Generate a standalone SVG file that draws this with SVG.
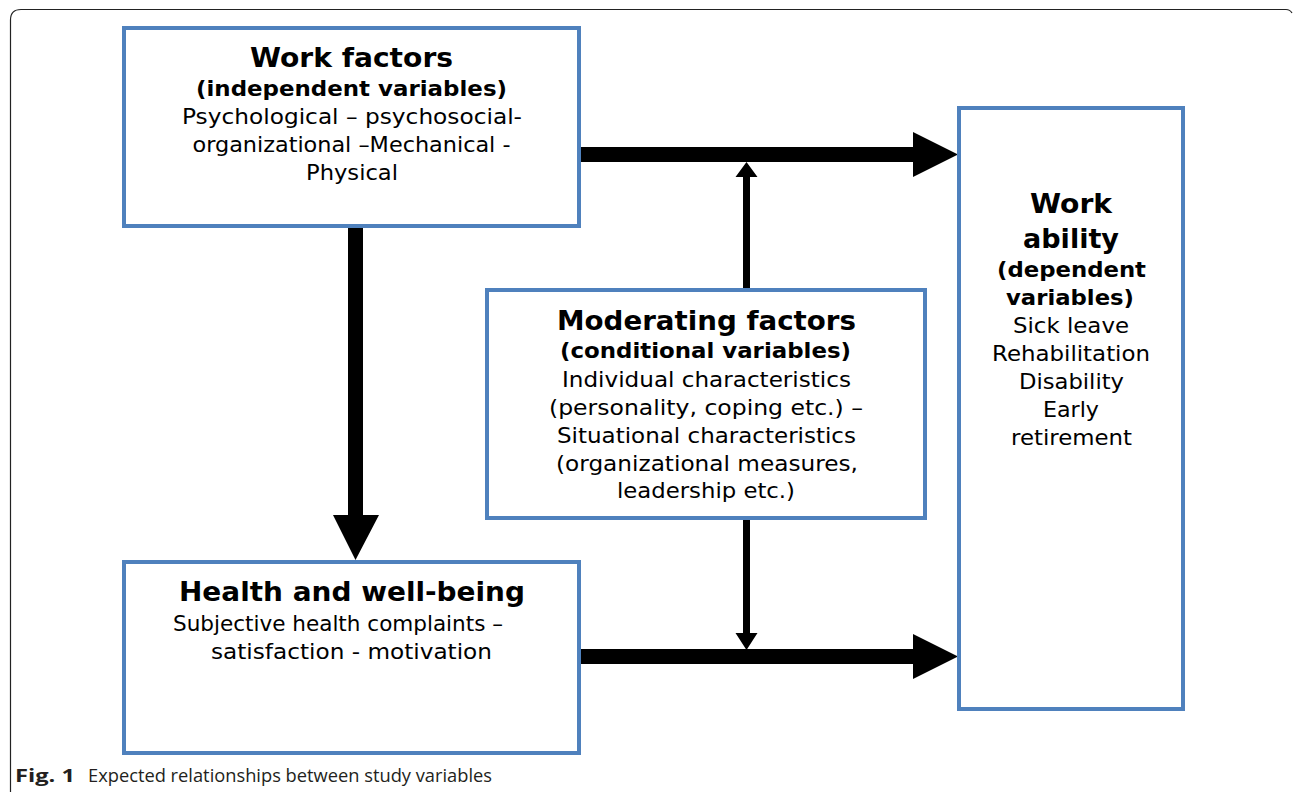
<svg xmlns="http://www.w3.org/2000/svg" width="1293" height="792" viewBox="0 0 1293 792">
<style>
.box{fill:#fff;stroke:#4f81bd;stroke-width:4}
.t{font-family:"DejaVu Sans",Verdana,sans-serif;fill:#000;text-anchor:middle}
.h{font-size:27px;font-weight:bold}
.s{font-size:21px;font-weight:bold}
.r{font-size:21px}
.c{font-family:"DejaVu Sans Condensed","DejaVu Sans",sans-serif;fill:#000;text-anchor:middle}
.arr{fill:#000}
</style>
<rect width="1293" height="792" fill="#fff"/>
<path d="M10.5,792 L10.5,20 Q10.5,9.5 21,9.5 L1286,9.5 Q1290,9.5 1292,13" fill="none" stroke="#222" stroke-width="1.2"/>
<g id="connectors">
<polygon class="arr" points="580,147 913,147 913,132 958,154.5 913,177 913,162 580,162"/>
<polygon class="arr" points="580,649 913,649 913,634 958,656.5 913,679 913,664 580,664"/>
<polygon class="arr" points="348,227 363,227 363,515 379,515 355.5,560 333,515 348,515"/>
<polygon class="arr" points="743,289 750,289 750,177 757.5,177 746.5,162 735.5,177 743,177"/>
<polygon class="arr" points="743,519 750,519 750,633 757.5,633 746.5,650 735.5,633 743,633"/>
</g>
<g id="work-factors">
<rect class="box" x="124" y="28" width="455" height="198"/>
<text class="t h" x="351.5" y="67" textLength="203" lengthAdjust="spacingAndGlyphs">Work factors</text>
<text class="t s" x="351.5" y="96" textLength="311" lengthAdjust="spacingAndGlyphs">(independent variables)</text>
<text class="t r" x="352" y="124" textLength="340" lengthAdjust="spacingAndGlyphs">Psychological – psychosocial-</text>
<text class="t r" x="351.5" y="152" textLength="318" lengthAdjust="spacingAndGlyphs">organizational –Mechanical -</text>
<text class="t r" x="352" y="180" textLength="92" lengthAdjust="spacingAndGlyphs">Physical</text>
</g>
<g id="moderating">
<rect class="box" x="487" y="290" width="438" height="228"/>
<text class="t h" x="706.5" y="330" textLength="299" lengthAdjust="spacingAndGlyphs">Moderating factors</text>
<text class="t s" x="705.5" y="358" textLength="291" lengthAdjust="spacingAndGlyphs">(conditional variables)</text>
<text class="t r" x="706.5" y="387" textLength="289" lengthAdjust="spacingAndGlyphs">Individual characteristics</text>
<text class="t r" x="706" y="415" textLength="314" lengthAdjust="spacingAndGlyphs">(personality, coping etc.) –</text>
<text class="t r" x="706.5" y="443" textLength="299" lengthAdjust="spacingAndGlyphs">Situational characteristics</text>
<text class="t r" x="707" y="471" textLength="302" lengthAdjust="spacingAndGlyphs">(organizational measures,</text>
<text class="t r" x="706" y="498" textLength="178" lengthAdjust="spacingAndGlyphs">leadership etc.)</text>
</g>
<g id="work-ability">
<rect class="box" x="959" y="108" width="224" height="601"/>
<text class="t h" x="1071" y="213" textLength="82" lengthAdjust="spacingAndGlyphs">Work</text>
<text class="t h" x="1071" y="248" textLength="96" lengthAdjust="spacingAndGlyphs">ability</text>
<text class="t s" x="1071.5" y="277" textLength="149" lengthAdjust="spacingAndGlyphs">(dependent</text>
<text class="t s" x="1070" y="305" textLength="128" lengthAdjust="spacingAndGlyphs">variables)</text>
<text class="t r" x="1071" y="333" textLength="116" lengthAdjust="spacingAndGlyphs">Sick leave</text>
<text class="t r" x="1071" y="361" textLength="158" lengthAdjust="spacingAndGlyphs">Rehabilitation</text>
<text class="t r" x="1071.5" y="389" textLength="105" lengthAdjust="spacingAndGlyphs">Disability</text>
<text class="t r" x="1071" y="417" textLength="56" lengthAdjust="spacingAndGlyphs">Early</text>
<text class="t r" x="1071.5" y="445" textLength="121" lengthAdjust="spacingAndGlyphs">retirement</text>
</g>
<g id="health">
<rect class="box" x="124" y="562" width="455" height="191"/>
<text class="c h" x="352" y="601" textLength="346" lengthAdjust="spacingAndGlyphs">Health and well-being</text>
<text class="c r" x="338" y="631" textLength="330" lengthAdjust="spacingAndGlyphs">Subjective health complaints –</text>
<text class="c r" x="351.5" y="659" textLength="281" lengthAdjust="spacingAndGlyphs">satisfaction - motivation</text>
</g>
<g id="caption">
<text x="15" y="782" font-family="'Open Sans',sans-serif" font-size="18" font-weight="bold" fill="#231f20" textLength="60" lengthAdjust="spacingAndGlyphs">Fig. 1</text>
<text x="88" y="782" font-family="'Open Sans',sans-serif" font-size="18" fill="#231f20" textLength="404" lengthAdjust="spacingAndGlyphs">Expected relationships between study variables</text>
</g>
</svg>
